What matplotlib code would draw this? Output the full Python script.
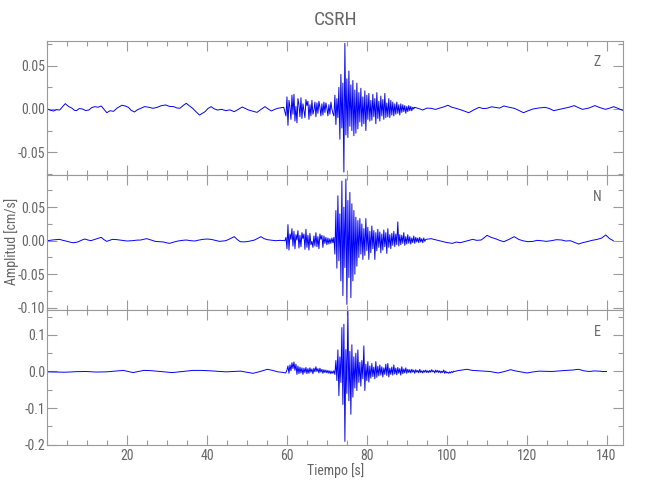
import numpy as np
import matplotlib
matplotlib.use("Agg")
import matplotlib.pyplot as plt
from matplotlib import font_manager
from matplotlib.ticker import MultipleLocator, FormatStrFormatter

# ---------------- data (amplitudes in 1e-3 cm/s, time in s) ----------------
title = "CSRH"
components = ["Z", "N", "E"]
xlabel = "Tiempo [s]"
ylabel = "Amplitud [cm/s]"
x_ticks = [20, 40, 60, 80, 100, 120, 140]

# --- Z ---
z_pre_t = [0, 0.8, 1.6, 2.3, 3.1, 3.8, 4.5, 5.3, 6.2, 6.8, 7.3, 8.0, 8.8, 9.6, 10.4,
           11.1, 11.9, 12.7, 13.5, 14.2, 14.9, 15.7, 16.6, 17.6, 18.7, 19.5, 20.3,
           21.0, 21.8, 22.6, 23.4, 24.4, 25.5, 26.5, 27.5, 28.5, 29.6, 30.6, 31.7,
           32.4, 33.2, 34.0, 34.8, 35.6, 36.4, 37.2, 38.1, 38.8, 39.5, 40.2, 41.0,
           41.8, 42.6, 43.6, 44.7, 45.7, 46.8, 47.8, 48.8, 49.6, 50.4, 51.4, 52.5,
           53.5, 54.5, 55.3, 56.1, 56.9, 57.7, 58.5, 59.2]
z_pre_v = [0, -1.5, -2.3, -0.8, -1.2, 2.5, 6.2, 3.0, 0.8, -1.5, -1.9, 0.5, 0, -1.8, -1.2,
           1.5, 2.7, 2.0, 3.5, -0.5, -4.3, -2.0, -2.7, 1.5, 4.3, 3.5, 1.9,
           -1.5, -3.5, -0.8, 0.8, 2.8, 1.9, 0.8, 1.9, 3.8, 4.7, 3.0, 2.7,
           1.2, 0.8, 4.0, 6.6, 3.5, 0.8, -3.0, -7.0, -5.0, -3.1, 0.5, 2.7,
           0.2, -1.2, -0.4, -1.9, -1.0, -3.1, -0.5, 2.3, 0.5, -1.2, -2.5, -3.9,
           -0.5, 2.7, 0.0, -2.3, -0.5, 0.8, 1.5, 1.9]
z_strong_t0 = 59.75
z_strong_v = [-8, 14, -19, 10, 2, -12, 16, -6, 17, -14, 3, -16, 12, 5, -9, 13,
              -11, 6, -2, -10, 11, 4, 9, -12, 5, -8, 10, -6, -1, 8, -9, 7,
              -5, 9, 2, -8, 6, -7, 8, -4, 7, 1, -8, 5, -6, 8, 0, -5,
              -8, 16, -18, 12, -10, 25, -35, 40, -22, 30, -73, 76, -30, 35, -33, 44,
              -20, 28, -25, 33, -31, 22, -28, 30, -23, 19, -15, 24, -20, 14, -17, 21,
              -25, 16, -12, 18, -14, 10, -13, 17, -9, 12, -17, 19, -11, 9, -14, 15,
              -8, 11, -12, 18, -10, 7, -9, 12, -10, 10, -7, 8, -8, 6, -6, 8,
              -5, 5, -7, 6, -4, 5, -3, 4, -5, 3, -3, 4, -2, 3, -2, 2, 0]
z_post_t = [91.9, 93.0, 94.0, 95.0, 96.1, 97.2, 98.2, 99.3, 100.3, 101.3, 102.3,
            103.9, 105.5, 106.8, 108.1, 109.1, 110.1, 111.2, 112.2, 113.2, 114.3,
            115.6, 116.9, 118.0, 119.2, 120.4, 121.6, 123.1, 124.7, 125.7, 126.8,
            128.1, 129.4, 130.6, 131.9, 133.0, 134.0, 135.5, 137.1, 138.4, 139.7,
            140.8, 141.8, 143.0, 144.2]
z_post_v = [2, 0.5, -1.2, 1.0, 0.8, -0.5, 1.0, 2.5, 4.3, 2.0, 0.8,
            -1.5, -4.3, -1.0, 1.9, 0.5, 0.8, 2.5, 1.9, 1.0, 3.5,
            2.0, 0.8, -1.5, -4.3, -2.0, 0, 1.2, 1.9, 0.5, -1.9,
            -0.5, 0.8, 2.0, 3.9, 1.5, -0.4, 1.0, 3.9, 1.5, -0.4,
            1.0, 2.7, 0.5, -1.9]

# --- N ---
n_pre_t = [0, 1.5, 3.1, 3.9, 4.7, 5.6, 6.5, 7.2, 7.8, 8.6, 9.4, 10.2, 10.9, 12.2, 13.5,
           14.2, 14.9, 15.6, 16.3, 17.5, 18.7, 20.0, 21.3, 22.4, 23.4, 24.2, 24.9,
           26.0, 27.0, 28.0, 29.1, 29.9, 30.6, 31.7, 32.7, 33.8, 34.8, 35.9, 36.9,
           38.0, 39.0, 40.0, 41.0, 42.0, 43.1, 43.9, 44.7, 45.8, 46.8, 47.5, 48.3,
           49.4, 50.4, 51.2, 51.9, 52.7, 53.5, 54.3, 55.1, 56.1, 57.1, 58.3, 59.5]
n_pre_v = [0, 1.2, 2, 0.5, -0.5, -2, -3, -2.5, -1.5, 0.8, 2.5, 1, 0, 2.5, 5,
           1.5, -1, 0.5, 2, 1.5, 0.5, -0.5, 0, 0.8, 1, 2.2, 3,
           1, -1, -1.5, -2, -3.2, -4, -2, -0.5, 0.5, 1, 0, -0.5,
           1, 2, 2.5, 2, 0.5, -1, -0.5, 0, 3, 6, 2, -1.5,
           -1.8, -1, 0, 1, 3.5, 6, 3, 1.5, 0.8, 0, 0.5, 0]
n_strong_t0 = 59.75
n_strong_v = [5, -12, 24, -14, 10, 2, 18, -8, 14, -12, 9, 1, 15, -11, 8, -9,
              12, 3, 10, -13, 17, -10, 8, -14, 11, -6, -1, -10, 7, -8, 12, -9,
              6, -12, 10, 2, 8, -10, 7, -4, 5, -6, 4, -5, 3, -4, 4, -3,
              5, -20, 45, -41, 67, -30, 40, -60, 89, -82, 50, -40, 92, -95, 60, -55,
              72, -85, 55, -60, 45, -50, 35, -38, 30, -25, 33, -20, 25, -28, 18, -22,
              33, -15, 20, -28, 14, -18, 22, -12, 15, -28, 12, -15, 17, -10, 13, -18,
              10, -14, 16, -9, 12, -19, 18, -10, 9, -12, 11, -7, 14, -9, 10, -6,
              28, -8, 9, -6, 8, -4, 12, -7, 6, -5, 9, -4, 6, -5, 4, -3,
              7, -4, 5, -2, 4, -3, 5, -2, 3, -3, 4, -1, 2]
n_post_t = [96.1, 97.1, 98.2, 99.8, 101.4, 102.4, 103.4, 104.9, 106.5, 107.5, 108.6,
            109.3, 110.1, 111.1, 112.2, 113.2, 114.3, 115.6, 116.9, 118.0, 119.0,
            120.3, 121.6, 122.6, 123.6, 124.9, 126.2, 127.5, 128.8, 129.8, 130.9,
            132.0, 133.0, 134.0, 135.1, 136.4, 137.7, 138.8, 139.8, 140.8, 141.7]
n_post_v = [3, 1.5, 0, -2.5, -4, -2, -3, -0.5, 2, 0.5, 1,
            4, 8, 5, 3, 0.5, -1.5, 2, 6, 2, 0,
            -1.5, -1, 0.5, 0, -1, 0, 1.5, 1, -0.5, 0,
            -2.5, -5, -3, -1.5, 0.5, 2, 4, 8.5, 3, 0]

# --- E ---
e_pre_t = [0, 2.2, 4.5, 7.1, 9.7, 12.2, 14.8, 17.0, 19.0, 20.3, 21.5, 22.8, 24.1,
           25.7, 27.2, 29.2, 31.3, 33.9, 36.5, 38.5, 40.6, 42.7, 44.8, 46.6, 48.4,
           50.0, 51.5, 53.3, 55.1, 56.4, 57.7, 58.7, 59.7]
e_pre_v = [-1, -1.5, -2, -0.5, 0, -1.5, -1, 1, 3, 0, -3, 0, 3,
           2.5, 1, -1, -3, 0, 3, 3, 2, 0.5, -1, 0, 1,
           -2, -5, 0, 6, 3, -1, -2, -4]
e_strong_t0 = 60.0
e_strong_v = [4, 15, -5, 18, 2, 24, 8, 26, 3, 20, -8, 15, -6, 12, -4, 10,
              -8, 9, -3, 11, -6, 8, -5, 10, -2, 7, -6, 9, -1, 13, 0, 8,
              -4, 9, -2, 6, -5, 5, -3, 4, -4, 3, -5, 2, -6, 1, -5, 2,
              -8, 30, -25, 59, -66, 40, -30, 120, -90, 129, -191, 60, -60, 168, -80, 55,
              -117, 73, -70, 40, -45, 50, -52, 59, -30, 25, -40, 30, -20, 70, -52, 20,
              -25, 27, -29, 15, -18, 22, -14, 12, -20, 27, -16, 14, -12, 18, -10, 13,
              -15, 10, -8, 20, -11, 22, -15, 9, -8, 12, -10, 18, -7, 9, -9, 11,
              -5, 8, -10, 13, -6, 7, -4, 10, -5, 6, -3, 5, -4, 6, -2, 4,
              -5, 5, -2, 3, -4, 6, -3, 2, -4, 3, -2, 4, -3, 2, -3, 3,
              -2, 5, -1, 2, -4, 4, -2, 3, -3, 2, -4, 1, -3, 4, -5, 1,
              -4, -2, -5, -1, -4, 0, -3, 1, 0]
e_post_t = [102.6, 103.9, 105.1, 106.4, 107.7, 109.3, 110.8, 111.9, 112.9, 114.5,
            116.0, 117.0, 118.0, 119.1, 120.1, 121.7, 123.2, 124.8, 126.3, 128.1,
            129.9, 131.5, 133.0, 134.3, 135.6, 136.9, 138.2, 139.1, 140.0]
e_post_v = [2, 4, 6, 3, 2, 1, 0, -2, -4, 0, 5, 2, 0, -2, -4, -1, 1, 0.5, 0, 1.5,
            3, 4, 6, 2, 0, 1.5, 1, 0, 0]

# axis settings per component
y_limits = {"Z": (-0.0764, 0.0787), "N": (-0.1034, 0.098), "E": (-0.2, 0.168)}
y_major = {"Z": 0.05, "N": 0.05, "E": 0.1}
y_minor = {"Z": 0.025, "N": 0.025, "E": 0.05}
y_fmt = {"Z": "%.2f", "N": "%.2f", "E": "%.1f"}
x_limits = (0.0, 144.2)
dt = 0.25


def build(pre_t, pre_v, t0, strong_v, post_t, post_v):
    st = t0 + dt * np.arange(len(strong_v))
    t = np.concatenate([pre_t, st, post_t])
    v = np.concatenate([pre_v, strong_v, post_v]) / 1000.0
    return t, v


traces = {
    "Z": build(z_pre_t, z_pre_v, z_strong_t0, z_strong_v, z_post_t, z_post_v),
    "N": build(n_pre_t, n_pre_v, n_strong_t0, n_strong_v, n_post_t, n_post_v),
    "E": build(e_pre_t, e_pre_v, e_strong_t0, e_strong_v, e_post_t, e_post_v),
}

# ---------------- font choice: a narrow face like the reference ----------------
fl = font_manager.fontManager.ttflist
names = {f.name for f in fl}
stretch = "normal"
if "Liberation Sans Narrow" in names:
    fam = "Liberation Sans Narrow"
elif "Roboto Condensed" in names:
    fam = "Roboto Condensed"
elif any(f.name == "DejaVu Sans" and f.stretch == "condensed" for f in fl):
    fam = "DejaVu Sans"
    stretch = "condensed"
elif "Roboto" in names:
    fam = "Roboto"
else:
    fam = "DejaVu Sans"
plt.rcParams["font.family"] = [fam, "DejaVu Sans"]
plt.rcParams["font.stretch"] = stretch
TXT = "#666666"
AX = "#9a9a9a"

fig = plt.figure(figsize=(6.5, 5.0), dpi=100)
W, H = 650.0, 500.0
left, right = 47.3, 623.3
edges = [41, 175, 310, 444.7]

for i, comp in enumerate(components):
    top_px, bot_px = edges[i], edges[i + 1]
    ax = fig.add_axes([left / W, 1 - bot_px / H, (right - left) / W, (bot_px - top_px) / H])
    t, v = traces[comp]
    ax.plot(t, v, color=(0, 0, 1), lw=0.7)
    ax.set_xlim(*x_limits)
    ax.set_ylim(*y_limits[comp])
    ax.set_xticks(x_ticks)
    ax.xaxis.set_minor_locator(MultipleLocator(5))
    ax.yaxis.set_major_locator(MultipleLocator(y_major[comp]))
    ax.yaxis.set_minor_locator(MultipleLocator(y_minor[comp]))
    ax.yaxis.set_major_formatter(FormatStrFormatter(y_fmt[comp]))
    ax.tick_params(which="both", direction="in", top=True, right=True, colors=AX,
                   labelcolor=TXT, labelsize=10, width=0.8)
    ax.tick_params(axis="y", which="major", pad=1.5)
    ax.tick_params(axis="x", which="major", pad=3)
    ax.tick_params(which="major", length=7.2)
    ax.tick_params(which="minor", length=3.6)
    for s in ax.spines.values():
        s.set_color(AX)
        s.set_linewidth(0.8)
    if i < 2:
        ax.tick_params(labelbottom=False)
    ax.text(0.955, 0.84, comp, transform=ax.transAxes, color=TXT, fontsize=10,
            ha="center", va="center")

fig.text(335.3 / W, 1 - 20 / H, title, color=TXT, fontsize=14, ha="center", va="center")
fig.text(12 / W, 1 - 241 / H, ylabel, color=TXT, fontsize=10, rotation=90,
         ha="center", va="center")
fig.text(335.3 / W, 1 - 471 / H, xlabel, color=TXT, fontsize=10, ha="center", va="center")

fig.savefig("out.png", dpi=100)
